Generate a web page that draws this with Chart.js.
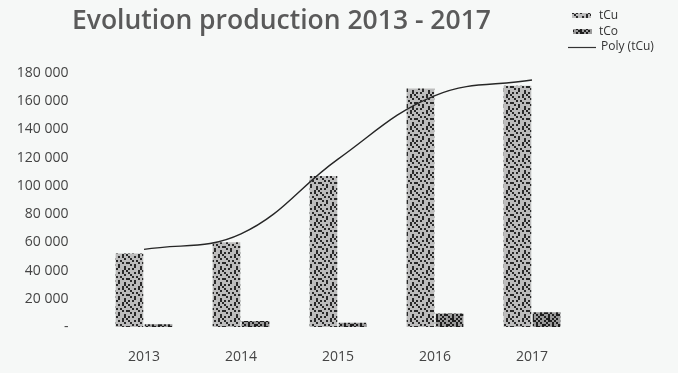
<!DOCTYPE html>
<html>
<head>
<meta charset="utf-8">
<script src="https://cdn.jsdelivr.net/npm/chart.js@4/dist/chart.umd.min.js"></script>
<style>
  body { margin: 0; background: #f6f8f7; }
  #wrap { width: 678px; height: 373px; position: relative; }
</style>
</head>
<body>
<div id="wrap"><canvas id="myChart"></canvas></div>
<script>
// donnees
const years = ['2013', '2014', '2015', '2016', '2017'];
const tCu = [52000, 60000, 107000, 169000, 171000];
const tCo = [2000, 4200, 3000, 9500, 10500];
const polyTCu = [55000, 66000, 119000, 164000, 175000];
const yTicks = [0, 20000, 40000, 60000, 80000, 100000, 120000, 140000, 160000, 180000];

// motif pointille (aspect photocopie)
function stipple(bg, dot, rows) {
  const c = document.createElement('canvas');
  c.width = rows[0].length * 2;
  c.height = rows.length * 2;
  const g = c.getContext('2d');
  g.fillStyle = bg;
  g.fillRect(0, 0, c.width, c.height);
  g.fillStyle = dot;
  rows.forEach((r, y) => {
    for (let x = 0; x < r.length; x++) {
      if (r[x] === '#') g.fillRect(x * 2, y * 2, 2, 2);
    }
  });
  return g.createPattern(c, 'repeat');
}

const cuFill = stipple('#bdbdbd', '#2a2a2a', [
  '#..#.#..',
  '.#....#.',
  '..#.#...',
  '#....#.#',
  '.#.#....',
  '...#..#.',
  '#.#...#.',
  '.....#.#'
]);
const coFill = stipple('#9a9a9a', '#1e1e1e', [
  '#.##.#..',
  '.#..#.#.',
  '#.#.#..#',
  '.#..##.#',
  '##.#..#.',
  '..#.#.##',
  '#.#..#..',
  '.##.#.#.'
]);

// titre + legende dessines a la main
const decor = {
  id: 'decor',
  afterDraw(chart) {
    const c = chart.ctx;
    c.save();
    c.fillStyle = '#5a5a5a';
    c.font = '600 26.5px "Open Sans"';
    c.textAlign = 'left';
    c.textBaseline = 'alphabetic';
    c.fillText('Evolution production 2013 - 2017', 72, 29);

    c.textBaseline = 'middle';
    c.font = '12px "Open Sans"';
    c.fillStyle = cuFill;
    c.fillRect(572, 13, 19, 5);
    c.fillStyle = coFill;
    c.fillRect(573, 29, 19, 5);
    c.strokeStyle = '#333';
    c.lineWidth = 1.2;
    c.beginPath();
    c.moveTo(568, 47.5);
    c.lineTo(596, 47.5);
    c.stroke();
    c.fillStyle = '#333';
    c.fillText('tCu', 599, 16);
    c.fillText('tCo', 599, 32);
    c.fillText('Poly (tCu)', 601, 47);
    c.restore();
  }
};

const ctx = document.getElementById('myChart');
new Chart(ctx, {
  type: 'bar',
  data: {
    labels: years,
    datasets: [
      {
        type: 'line',
        label: 'Poly (tCu)',
        data: polyTCu,
        borderColor: '#262626',
        borderWidth: 1.4,
        pointRadius: 0,
        tension: 0.4,
        fill: false,
        order: 0
      },
      {
        label: 'tCu',
        data: tCu,
        backgroundColor: cuFill,
        categoryPercentage: 0.6,
        barPercentage: 0.95,
        order: 1
      },
      {
        label: 'tCo',
        data: tCo,
        backgroundColor: coFill,
        categoryPercentage: 0.6,
        barPercentage: 0.95,
        order: 1
      }
    ]
  },
  options: {
    responsive: true,
    maintainAspectRatio: false,
    animation: false,
    layout: { padding: { top: 73, right: 97.5, bottom: 0, left: 0 } },
    plugins: {
      legend: { display: false },
      title: { display: false },
      tooltip: { enabled: false }
    },
    scales: {
      x: {
        afterFit: (scale) => { scale.height = 46; },
        grid: { display: false, drawTicks: false },
        border: { display: false },
        ticks: { color: '#444', padding: 22, font: { family: 'Open Sans', size: 14 } }
      },
      y: {
        min: 0,
        max: 180000,
        afterBuildTicks: (scale) => { scale.ticks = yTicks.map(v => ({ value: v })); },
        afterFit: (scale) => { scale.width = 95.5; },
        grid: { display: false, drawTicks: false },
        border: { display: false },
        ticks: {
          color: '#444',
          padding: 27,
          font: { family: 'Open Sans', size: 14 },
          callback: (v) => v === 0 ? '-' : v.toLocaleString('en-US').replace(/,/g, ' ')
        }
      }
    }
  },
  plugins: [decor]
});
</script>
</body>
</html>
